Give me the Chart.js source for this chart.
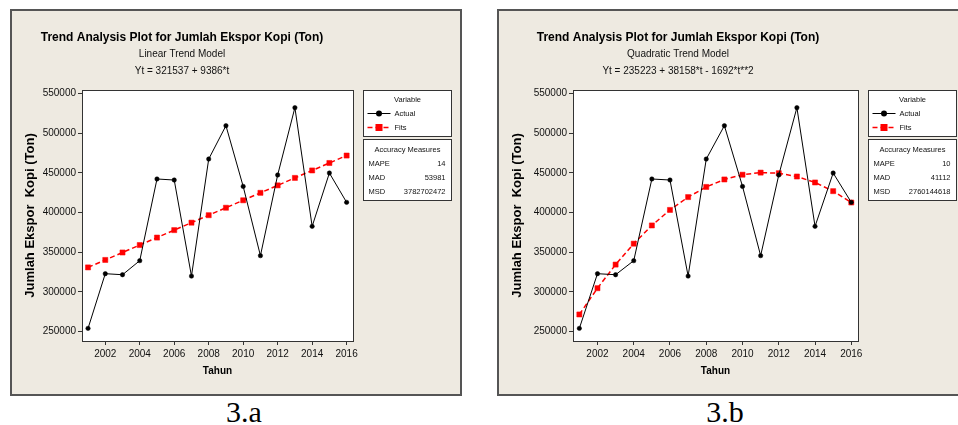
<!DOCTYPE html>
<html>
<head>
<meta charset="utf-8">
<script src="https://cdn.jsdelivr.net/npm/chart.js@4.4.1/dist/chart.umd.min.js"></script>
<style>
  body { margin: 0; width: 958px; height: 425px; overflow: hidden; background: #fff; position: relative; }
  .panel { position: absolute; top: 9px; height: 387px; box-sizing: border-box; border: 2px solid #555; background: #eeeae1; }
  canvas { position: absolute; top: 10px; }
  .cap { position: absolute; top: 397px; width: 100px; text-align: center; font-family: "Liberation Serif", serif; font-size: 30px; line-height: 30px; color: #000; }
</style>
</head>
<body>
<div class="panel" style="left:10px;width:452px"></div>
<div class="panel" style="left:497px;width:480px"></div>
<canvas id="chartA" width="450" height="385" style="left:11px"></canvas>
<canvas id="chartB" width="471" height="385" style="left:498px"></canvas>
<div class="cap" style="left:194px">3.a</div>
<div class="cap" style="left:675px">3.b</div>
<script>
// dados
const years = [2001, 2002, 2003, 2004, 2005, 2006, 2007, 2008, 2009, 2010, 2011, 2012, 2013, 2014, 2015, 2016];
const actual = [254200, 323000, 321700, 339400, 442200, 440900, 320000, 467300, 509300, 432900, 345700, 447200, 532000, 382600, 449700, 412800];
const linearFits = [330923, 340309, 349695, 359081, 368467, 377853, 387239, 396625, 406011, 415397, 424783, 434169, 443555, 452941, 462327, 471713];
const quadraticFits = [271689, 304771, 334469, 360783, 383713, 403259, 419421, 432199, 441593, 447603, 450229, 449471, 445329, 437803, 426893, 412599];
const xTicks = [2002, 2004, 2006, 2008, 2010, 2012, 2014, 2016];
const yTicks = [250000, 300000, 350000, 400000, 450000, 500000, 550000];
const accuracyLabels = ["MAPE", "MAD", "MSD"];
const linearAccuracy = ["14", "53981", "3782702472"];
const quadraticAccuracy = ["10", "41112", "2760144618"];

const SANS = '"Liberation Sans", Arial, sans-serif';

// moldura branca da área do gráfico
const plotFrame = {
    id: 'plotFrame',
    beforeDatasetsDraw(chart) {
        const { ctx, chartArea: a } = chart;
        ctx.save();
        ctx.fillStyle = '#fff';
        ctx.fillRect(a.left, a.top, a.right - a.left, a.bottom - a.top);
        ctx.restore();
    },
    afterDatasetsDraw(chart) {
        const { ctx, chartArea: a } = chart;
        ctx.save();
        ctx.strokeStyle = '#333';
        ctx.lineWidth = 1;
        ctx.strokeRect(Math.round(a.left) + 0.5, Math.round(a.top) + 0.5, Math.round(a.right - a.left), Math.round(a.bottom - a.top));
        ctx.restore();
    }
};

// caixas "Variable" e "Accuracy Measures"
const sideBoxes = {
    id: 'sideBoxes',
    afterDraw(chart, args, opts) {
        const { ctx, chartArea: a } = chart;
        const x = Math.round(a.right) + 10.5, w = 88;
        let y = Math.round(a.top) + 0.5;
        ctx.save();
        ctx.lineWidth = 1;
        ctx.strokeStyle = '#333';
        ctx.fillStyle = '#fff';
        ctx.fillRect(x, y, w, 46);
        ctx.strokeRect(x, y, w, 46);
        ctx.font = '7.5px ' + SANS;
        ctx.fillStyle = '#111';
        ctx.textBaseline = 'middle';
        ctx.textAlign = 'center';
        ctx.fillText('Variable', x + w / 2, y + 9.5);
        chart.data.datasets.forEach((ds, i) => {
            const ry = y + 23 + i * 14;
            ctx.save();
            ctx.strokeStyle = ds.borderColor;
            ctx.lineWidth = ds.borderWidth;
            ctx.setLineDash(ds.borderDash || []);
            ctx.beginPath();
            ctx.moveTo(x + 4, ry);
            ctx.lineTo(x + 27, ry);
            ctx.stroke();
            ctx.setLineDash([]);
            ctx.fillStyle = ds.backgroundColor;
            if (ds.pointStyle === 'rect') {
                ctx.fillRect(x + 12, ry - 3.5, 7, 7);
            } else {
                ctx.beginPath();
                ctx.arc(x + 15.5, ry, 3, 0, Math.PI * 2);
                ctx.fill();
            }
            ctx.restore();
            ctx.textAlign = 'left';
            ctx.fillText(ds.label, x + 31, ry);
        });
        y += 49;
        ctx.fillStyle = '#fff';
        ctx.fillRect(x, y, w, 61);
        ctx.strokeRect(x, y, w, 61);
        ctx.fillStyle = '#111';
        ctx.textAlign = 'center';
        ctx.fillText('Accuracy Measures', x + w / 2, y + 10);
        accuracyLabels.forEach((lab, i) => {
            const ry = y + 24 + i * 14;
            ctx.textAlign = 'left';
            ctx.fillText(lab, x + 5, ry);
            ctx.textAlign = 'right';
            ctx.fillText(opts.values[i], x + w - 6, ry);
        });
        ctx.restore();
    }
};

function trendChart(id, model, equation, fits, accuracy, yWidth, rightPad) {
    return new Chart(document.getElementById(id), {
        type: 'line',
        data: {
            datasets: [{
                label: 'Actual',
                data: years.map((yr, i) => ({ x: yr, y: actual[i] })),
                borderColor: '#000',
                backgroundColor: '#000',
                borderWidth: 1,
                pointStyle: 'circle',
                pointRadius: 2.2,
                pointBorderWidth: 0.5,
                tension: 0
            }, {
                label: 'Fits',
                data: years.map((yr, i) => ({ x: yr, y: fits[i] })),
                borderColor: '#ff0000',
                backgroundColor: '#ff0000',
                borderWidth: 1.5,
                borderDash: [5, 3],
                pointStyle: 'rect',
                pointRadius: 3.6,
                pointBorderWidth: 0.5,
                tension: 0
            }]
        },
        options: {
            responsive: false,
            animation: false,
            devicePixelRatio: 1,
            layout: { padding: { left: 0, right: rightPad, top: 0, bottom: 0 } },
            plugins: {
                legend: { display: false },
                tooltip: { enabled: false },
                title: {
                    display: true,
                    text: 'Trend Analysis Plot for Jumlah Ekspor Kopi (Ton)',
                    color: '#000',
                    font: { family: SANS, size: 12, weight: 'bold', lineHeight: 1.2 },
                    padding: { top: 20.5, bottom: 0 }
                },
                subtitle: {
                    display: true,
                    text: [model, equation],
                    color: '#111',
                    font: { family: SANS, size: 10, lineHeight: 1.7 },
                    padding: { top: 0.6, bottom: 10.5 }
                },
                sideBoxes: { values: accuracy }
            },
            scales: {
                x: {
                    type: 'linear',
                    min: 2000.65,
                    max: 2016.37,
                    afterBuildTicks: s => { s.ticks = xTicks.map(v => ({ value: v })); },
                    afterFit: s => { s.height = 54; },
                    ticks: { callback: v => String(v), color: '#111', font: { family: SANS, size: 10, lineHeight: 1.2 }, padding: 3, maxRotation: 0, autoSkip: false },
                    grid: { drawOnChartArea: false, drawTicks: true, tickLength: 4, color: '#333' },
                    border: { display: false },
                    title: { display: true, text: 'Tahun', color: '#000', font: { family: SANS, size: 10, weight: 'bold', lineHeight: 1.2 }, padding: { top: 0, bottom: 18 } }
                },
                y: {
                    min: 238300,
                    max: 554200,
                    afterBuildTicks: s => { s.ticks = yTicks.map(v => ({ value: v })); },
                    afterFit: s => { s.width = yWidth; },
                    ticks: { callback: v => String(v), color: '#111', font: { family: SANS, size: 10 }, padding: 2 },
                    grid: { drawOnChartArea: false, drawTicks: true, tickLength: 4, color: '#333' },
                    border: { display: false },
                    title: { display: true, text: 'Jumlah Ekspor  Kopi (Ton)', color: '#000', font: { family: SANS, size: 13, weight: 'bold', lineHeight: 1.2 }, padding: { top: 12, bottom: 0 } }
                }
            }
        },
        plugins: [plotFrame, sideBoxes]
    });
}

trendChart('chartA', 'Linear Trend Model', 'Yt = 321537 + 9386*t', linearFits, linearAccuracy, 71, 108);
trendChart('chartB', 'Quadratic Trend Model', 'Yt = 235223 + 38158*t - 1692*t**2', quadraticFits, quadraticAccuracy, 75, 111);
</script>
</body>
</html>
